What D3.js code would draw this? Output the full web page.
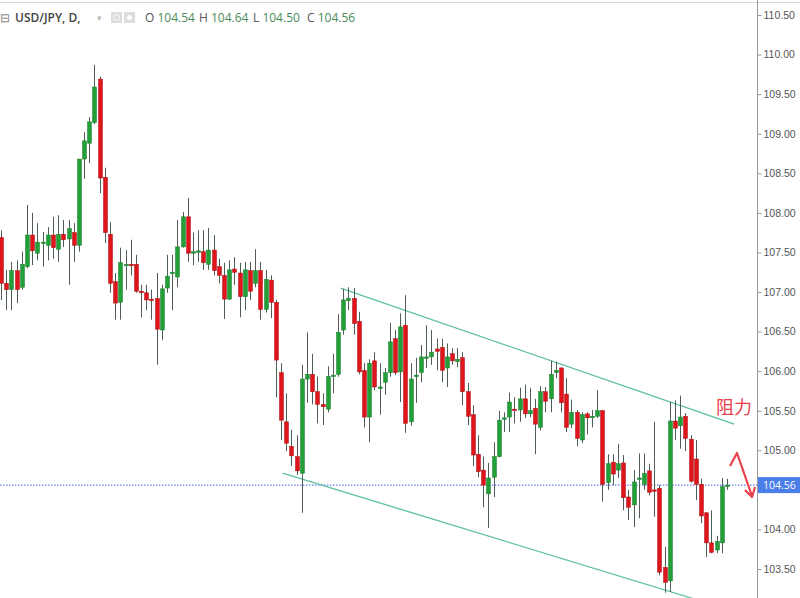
<!DOCTYPE html>
<html>
<head>
<meta charset="utf-8">
<script src="https://cdn.jsdelivr.net/npm/d3@7"></script>
<style>
  body { margin: 0; background: #fff; }
  svg { display: block; font-family: "Open Sans", "Noto Sans", sans-serif; }
</style>
</head>
<body>
<div id="chart"></div>
<script>
// daily candles: [open, high, low, close]
const opens  = [107.69,107.11,107.03,107.27,107.06,107.32,107.72,107.49,107.62,107.59,107.72,107.54,107.73,107.67,107.75,107.59,108.68,108.88,109.14,109.69,108.45,107.73,107.13,106.87,107.34,
  107.35,107.35,107.01,106.99,106.91,106.92,106.52,107.05,107.24,107.19,107.57,107.95,107.49,107.51,107.51,107.35,107.53,107.32,107.21,106.91,107.29,107.24,106.94,107.27,107.11,107.27,106.78,107.15,106.87,105.98,
  105.36,105.05,104.92,104.71,105.90,105.96,105.74,105.58,105.52,105.94,105.96,106.52,106.89,106.92,106.63,106.01,105.42,106.13,105.79,105.86,105.98,106.41,105.99,106.58,105.36,105.93,105.98,106.17,106.18,106.28,
  106.30,106.04,106.22,106.12,106.17,105.74,105.45,104.95,104.75,104.45,104.66,104.92,105.40,105.42,105.52,105.51,105.65,105.46,105.53,105.29,105.74,105.65,105.98,106.04,105.71,105.33,105.48,105.13,105.46,105.42,
  105.43,105.50,104.59,104.85,104.75,104.84,104.41,104.31,104.64,104.57,104.74,104.50,104.52,103.52,103.35,105.37,105.31,105.43,105.14,104.89,104.57,104.21,103.83,103.74,103.83,104.54];
const highs  = [107.78,107.28,107.38,107.40,107.51,108.10,108.00,107.87,107.76,107.82,107.95,107.97,107.91,107.91,107.87,108.68,109.02,109.21,109.87,109.72,108.57,107.88,107.24,107.56,107.53,
  107.66,107.47,107.09,107.09,107.03,107.24,107.09,107.47,107.47,107.91,108.01,108.19,107.75,107.78,107.78,107.81,107.72,107.42,107.37,107.40,107.44,107.37,107.38,107.38,107.54,107.38,107.28,107.21,106.90,106.10,
  105.72,105.26,105.19,106.08,106.49,106.22,105.93,105.72,106.06,106.22,106.72,107.04,107.06,107.05,106.75,106.10,106.15,106.24,106.10,106.04,106.61,106.52,106.73,106.96,106.10,106.17,106.33,106.58,106.52,106.41,
  106.41,106.35,106.29,106.29,106.24,105.85,105.57,105.19,104.92,104.84,105.10,105.50,105.48,105.73,105.67,105.79,105.83,105.79,105.65,105.81,105.80,106.13,106.12,106.05,105.91,105.64,105.51,105.48,105.48,105.51,
  105.76,105.51,104.95,104.95,105.08,104.94,104.50,104.75,104.96,104.96,104.83,105.36,104.56,103.78,105.61,105.63,105.69,105.47,105.19,105.13,104.64,104.22,104.24,103.92,104.65,104.64];
const lows   = [106.90,106.77,106.77,106.86,107.03,107.30,107.34,107.40,107.32,107.40,107.42,107.38,107.57,107.09,107.38,107.51,108.43,108.63,109.12,108.25,107.62,106.99,106.65,106.65,107.03,
  107.21,106.99,106.68,106.77,106.65,106.08,106.39,106.99,106.77,107.06,107.56,107.38,107.34,107.38,107.28,107.28,107.21,107.11,106.66,106.90,107.09,106.68,106.77,106.90,107.06,106.65,106.74,106.67,105.67,105.13,
  104.99,104.80,104.69,104.21,105.60,105.58,105.34,105.32,105.48,105.72,105.93,106.46,106.77,106.46,105.96,105.29,105.10,105.76,105.45,105.70,105.93,105.95,105.61,105.22,105.31,105.60,105.86,106.04,106.08,106.01,
  105.86,105.80,106.08,106.05,105.57,105.32,104.80,104.66,104.28,104.02,104.41,104.91,105.23,105.23,105.34,105.36,105.41,105.42,104.95,105.25,105.48,105.48,105.91,105.48,105.23,105.28,105.05,105.09,105.20,105.29,
  105.41,104.35,104.50,104.56,104.65,104.24,104.12,104.03,104.14,104.50,104.43,104.16,103.42,103.20,103.21,105.13,105.02,104.99,104.59,104.37,104.08,103.65,103.70,103.70,103.70,104.50];
const closes = [107.11,107.03,107.27,107.03,107.35,107.72,107.52,107.63,107.63,107.72,107.56,107.73,107.66,107.80,107.59,108.68,108.91,109.15,109.59,108.44,107.75,107.11,106.86,107.37,107.35,
  107.34,107.01,106.99,106.90,106.90,106.53,107.04,107.20,107.25,107.57,107.95,107.49,107.51,107.52,107.37,107.53,107.27,107.21,106.91,107.28,107.25,106.94,107.28,107.01,107.27,106.78,107.16,106.87,106.14,105.38,
  105.09,104.93,104.74,105.90,105.96,105.74,105.58,105.55,105.93,105.95,106.49,106.90,106.92,106.60,105.99,105.42,106.10,105.80,105.80,105.98,106.37,105.98,106.56,105.34,105.90,105.95,106.18,106.18,106.24,106.25,
  106.01,106.18,106.13,106.15,105.74,105.43,104.94,104.73,104.56,104.65,104.92,105.38,105.41,105.61,105.50,105.65,105.46,105.50,105.33,105.74,105.62,105.96,106.01,105.60,105.29,105.48,105.15,105.45,105.41,105.43,
  105.50,104.57,104.83,104.70,104.83,104.40,104.28,104.60,104.65,104.71,104.47,104.49,103.46,103.33,105.37,105.28,105.42,105.15,104.61,104.57,104.17,103.83,103.71,103.85,104.54,104.56];

const priceTicks = [103.5,104,104.5,105,105.5,106,106.5,107,107.5,108,108.5,109,109.5,110,110.5];
const lastPrice = 104.56;
// channel lines drawn on the chart: [candle index, price]
const upperLine = [[65.5, 107.05], [141.4, 105.33]];
const lowerLine = [[54.3, 104.71], [133.3, 103.13]];

const W = 800, H = 598, axisX = 757;
const svg = d3.select("#chart").append("svg").attr("width", W).attr("height", H);

const x = d3.scaleBand().domain(d3.range(opens.length)).range([-2, 730]).padding(0.2);
const xc = i => x(i) + x.bandwidth() / 2;
const xl = d3.scaleLinear().domain([0, opens.length - 1]).range([xc(0), xc(opens.length - 1)]);
const y = d3.scaleLinear().domain([103.5, 110.5]).range([569, 15]);

// top border
svg.append("line").attr("x1", 0).attr("x2", W).attr("y1", 2.5).attr("y2", 2.5).attr("stroke", "#d8d8d8");

// last price dotted line
svg.append("line").attr("x1", 0).attr("x2", axisX).attr("y1", y(lastPrice)).attr("y2", y(lastPrice))
  .attr("stroke", "#3b5fd9").attr("stroke-dasharray", "1.5,1.5").attr("stroke-width", 1);

// channel lines
[upperLine, lowerLine].forEach(l => {
  svg.append("line")
    .attr("x1", xl(l[0][0])).attr("y1", y(l[0][1]))
    .attr("x2", xl(l[1][0])).attr("y2", y(l[1][1]))
    .attr("stroke", "#5cbfa7").attr("stroke-width", 1.3);
});

// candles
const g = svg.append("g");
const idx = d3.range(opens.length);
g.selectAll(".wick").data(idx).enter().append("line")
  .attr("x1", i => Math.round(xc(i)) + 0.5).attr("x2", i => Math.round(xc(i)) + 0.5)
  .attr("y1", i => y(highs[i])).attr("y2", i => y(lows[i]))
  .attr("stroke", "#4f5f55").attr("stroke-width", 1);
g.selectAll(".body").data(idx).enter().append("rect")
  .attr("x", i => Math.round(xc(i)) - 1.5)
  .attr("width", 4)
  .attr("y", i => y(Math.max(opens[i], closes[i])))
  .attr("height", i => Math.max(1.5, Math.abs(y(opens[i]) - y(closes[i]))))
  .attr("fill", i => closes[i] >= opens[i] ? "#22a038" : "#e0141b")
  .attr("stroke", i => closes[i] >= opens[i] ? "#1b7a2c" : "#a81015")
  .attr("stroke-width", 0.5);

// right axis (labels hidden under the last-price tag are skipped)
svg.append("line").attr("x1", axisX + 0.5).attr("x2", axisX + 0.5).attr("y1", 0).attr("y2", H).attr("stroke", "#999");
const axis = svg.append("g").attr("transform", `translate(${axisX + 0.5},0)`)
  .call(d3.axisRight(y).tickValues(priceTicks.filter(p => Math.abs(y(p) - y(lastPrice)) > 12))
    .tickFormat(d3.format(".2f")).tickSize(4));
axis.select(".domain").remove();
axis.selectAll("line").attr("stroke", "#999");
axis.selectAll("text").attr("fill", "#555").attr("font-size", 10.5).attr("x", 6);

// last price label
svg.append("rect").attr("x", axisX + 1).attr("y", y(lastPrice) - 8).attr("width", W - axisX).attr("height", 16).attr("fill", "#4a7ee8");
svg.append("text").attr("x", axisX + 6).attr("y", y(lastPrice) + 4).attr("fill", "#fff").attr("font-size", 10.5).text(d3.format(".2f")(lastPrice));

// header
const head = svg.append("g").attr("font-size", 12);
head.append("text").attr("x", 0).attr("y", 22).attr("fill", "#888").text("⊟");
head.append("text").attr("x", 15).attr("y", 22).attr("fill", "#444").attr("font-weight", "600").text("USD/JPY, D,");
head.append("text").attr("x", 97).attr("y", 21).attr("fill", "#bbb").attr("font-size", 9).text("▾");
head.append("rect").attr("x", 111).attr("y", 12).attr("width", 11).attr("height", 11).attr("fill", "#ddd");
head.append("rect").attr("x", 124).attr("y", 12).attr("width", 11).attr("height", 11).attr("fill", "#ddd");
head.append("circle").attr("cx", 116.5).attr("cy", 17.5).attr("r", 3).attr("fill", "none").attr("stroke", "#fff");
head.append("circle").attr("cx", 129.5).attr("cy", 17.5).attr("r", 2.5).attr("fill", "#fff");
const ohlc = [["O", opens], ["H", highs], ["L", lows], ["C", closes]];
let hx = 145;
ohlc.forEach(([k, arr]) => {
  const t = head.append("text").attr("x", hx).attr("y", 22).attr("fill", "#4b8a5a");
  t.append("tspan").attr("fill", "#555").text(k + " ");
  t.append("tspan").text(arr[arr.length - 1].toFixed(2));
  hx += 54;
});

// annotation
svg.append("text").attr("x", 716).attr("y", 414).attr("fill", "#e8414a").attr("font-size", 18)
  .attr("font-family", "Noto Sans CJK SC").text("阻力");
svg.append("path").attr("d", "M730,466 L737,453 L752,496 M745,490 L752,497 L755,487")
  .attr("fill", "none").attr("stroke", "#e8414a").attr("stroke-width", 2.2).attr("stroke-linejoin", "round");
</script>
</body>
</html>
